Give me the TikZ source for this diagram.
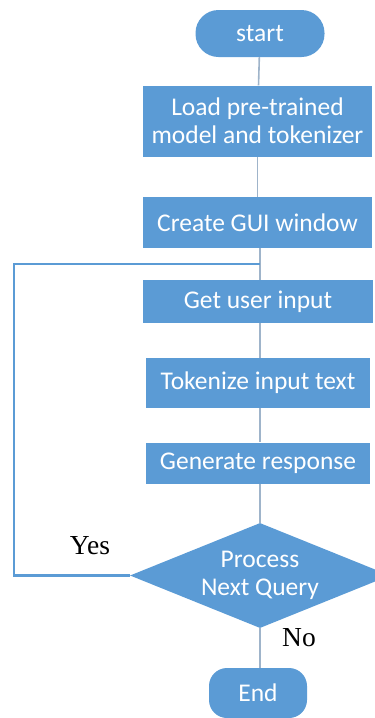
\documentclass[tikz,border=0pt]{standalone}
\usepackage{fontspec}
\setmainfont{Carlito}
\newfontfamily\serifface{Liberation Serif}
\usetikzlibrary{shapes.geometric}
\definecolor{boxblue}{HTML}{5B9BD5}
\definecolor{linegray}{HTML}{9FB4CA}
\begin{document}
\begin{tikzpicture}[x=1pt,y=-1pt,
  proc/.style={fill=boxblue,draw=none,text=white,font=\fontsize{25.5}{28}\selectfont,align=center,inner sep=0pt},
  conn/.style={draw=linegray,line width=1.6pt},
  loopline/.style={draw=boxblue,line width=2.2pt},
  lab/.style={font=\serifface\fontsize{27.5}{30}\selectfont,text=black,inner sep=0pt}]
\useasboundingbox (0,0) rectangle (375,718);
\begin{scope}
\clip (0,0) rectangle (375,718);
\node[proc,rounded corners=23pt,minimum width=129pt,minimum height=47pt] (start) at (260,33.5) {start};
\node[proc,minimum width=229pt,minimum height=71pt] (load) at (257.5,121) {Load pre-trained\\model and tokenizer};
\node[proc,minimum width=229pt,minimum height=51pt] (gui) at (257.5,222.5) {Create GUI window};
\node[proc,minimum width=230pt,minimum height=43pt] (input) at (258,301.5) {Get user input};
\node[proc,minimum width=224pt,minimum height=50pt] (tok) at (258,383) {Tokenize input text};
\node[proc,minimum width=224pt,minimum height=41pt] (gen) at (258,463) {Generate response};
\node[proc,diamond,aspect=2.48,minimum width=260pt,minimum height=105pt] (dec) at (260,575.5) {Process\\Next Query};
\node[proc,rounded corners=18pt,minimum width=98pt,minimum height=50pt] (end) at (258,693) {End};
\coordinate (j) at (260,264);
\coordinate (lt) at (14,264);
\coordinate (lb) at (14,575.5);
\draw[conn] (start) -- (load);
\draw[conn] (load) -- (gui);
\draw[conn] (gui.south -| j) -- (input.north -| j);
\draw[conn] (input.south -| j) -- (tok.north -| j);
\draw[conn] (tok.south -| j) -- (gen.north -| j);
\draw[conn] (gen.south -| j) -- (dec.north);
\draw[conn] (dec.south) -- (end.north -| dec.south);
\draw[loopline] (dec.west) -- (lb) -- (lt) -- (j);
\node[lab] (yes) at (90,546) {Yes};
\node[lab] (no) at (299,637.5) {No};
\end{scope}
\end{tikzpicture}
\end{document}
